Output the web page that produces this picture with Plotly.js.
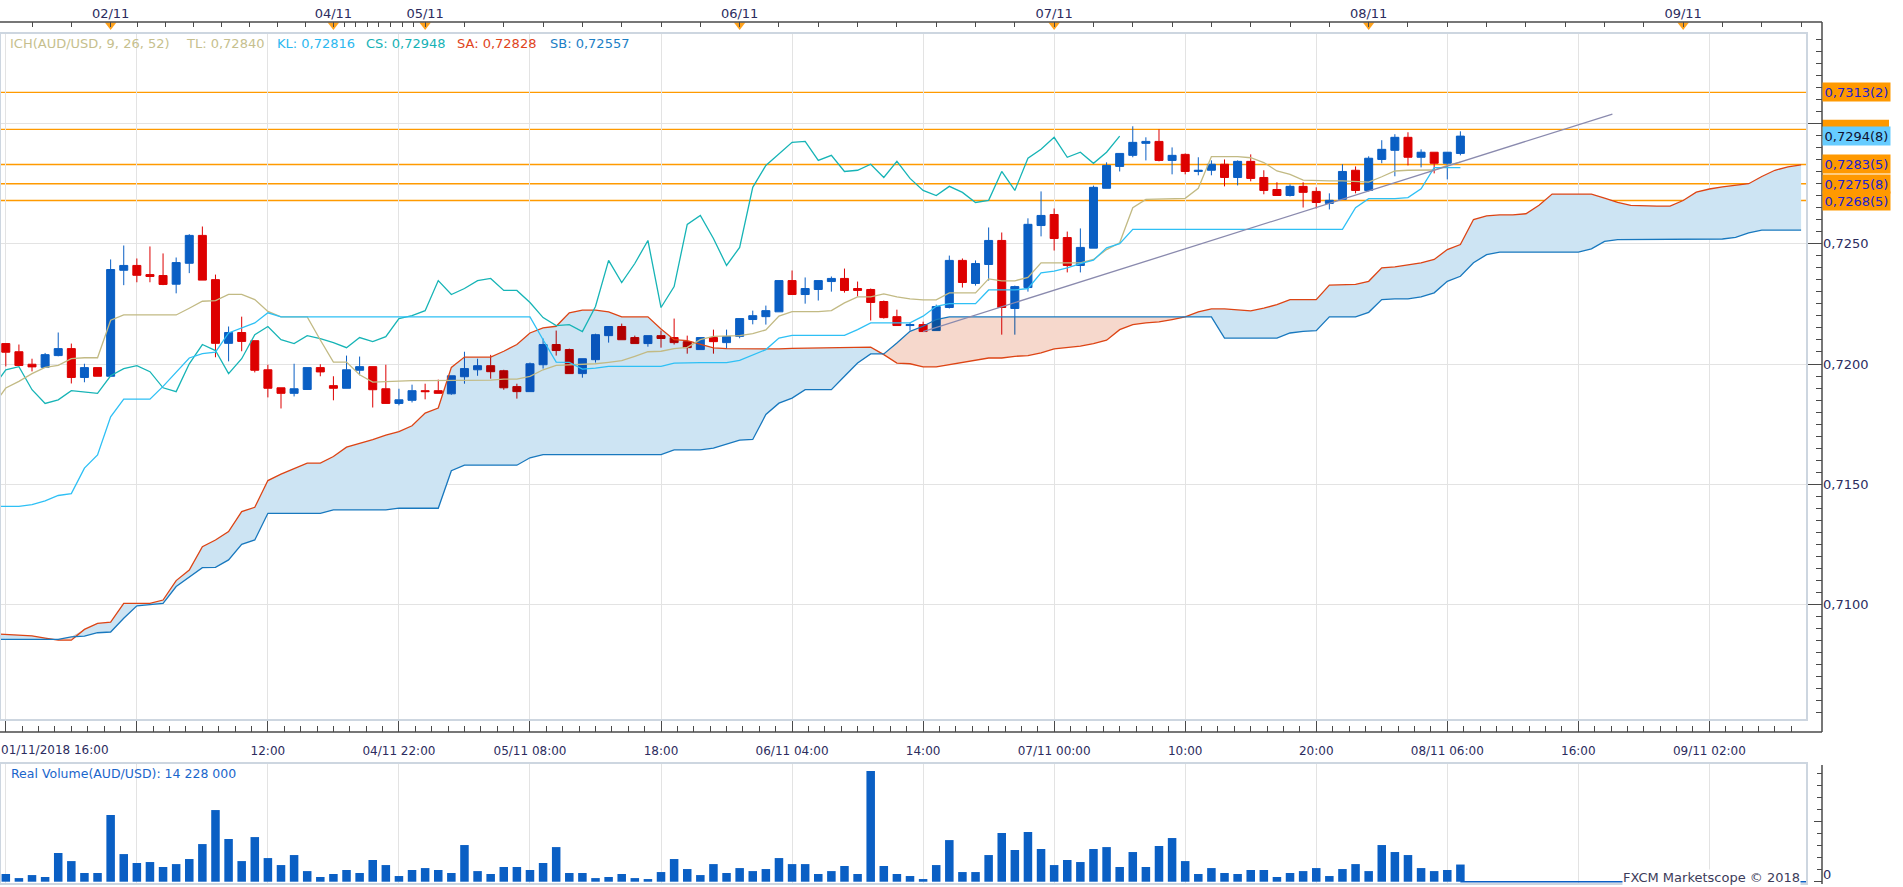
<!DOCTYPE html>
<html><head><meta charset="utf-8">
<script src="https://cdn.plot.ly/plotly-3.0.1.min.js"></script>
<style>html,body{margin:0;padding:0;background:#fff;}#chart{width:1903px;height:887px;}</style>
</head><body><div id="chart"></div>
<script>
// ---------- DATA (hourly bars, index 0 = 01/11/2018 16:00) ----------
const candleOpen = [0.72085,0.72051,0.71999,0.71986,0.72035,0.72064,0.71944,0.71985,0.71949,0.72390,
0.72410,0.72372,0.72368,0.72332,0.72419,0.72535,0.72351,0.72086,0.72131,0.72097,
0.71976,0.71901,0.71878,0.71894,0.71985,0.71910,0.71899,0.71974,0.71989,0.71897,
0.71836,0.71849,0.71889,0.71889,0.71876,0.71947,0.71976,0.71993,0.71972,0.71906,
0.71885,0.71997,0.72081,0.72060,0.71960,0.72018,0.72118,0.72156,0.72110,0.72085,
0.72118,0.72110,0.72093,0.72060,0.72110,0.72089,0.72115,0.72185,0.72197,0.72217,
0.72347,0.72289,0.72310,0.72343,0.72356,0.72314,0.72310,0.72260,0.72197,0.72160,
0.72164,0.72139,0.72235,0.72431,0.72335,0.72414,0.72514,0.72231,0.72318,0.72576,
0.72622,0.72526,0.72410,0.72482,0.72731,0.72822,0.72868,0.72918,0.72926,0.72847,
0.72872,0.72801,0.72806,0.72831,0.72776,0.72843,0.72776,0.72726,0.72701,0.72739,
0.72718,0.72668,0.72685,0.72806,0.72722,0.72851,0.72889,0.72943,0.72860,0.72881,
0.72835,0.72876];
const candleHigh = [0.72085,0.72081,0.72022,0.72046,0.72131,0.72085,0.72001,0.71985,0.72435,0.72493,
0.72439,0.72489,0.72460,0.72443,0.72540,0.72572,0.72372,0.72156,0.72197,0.72097,
0.71997,0.71901,0.72001,0.71985,0.71999,0.71949,0.72035,0.72031,0.71989,0.71997,
0.71897,0.71914,0.71918,0.71935,0.71951,0.72051,0.72022,0.72038,0.71976,0.71918,
0.72006,0.72106,0.72139,0.72064,0.72022,0.72126,0.72156,0.72168,0.72118,0.72118,
0.72139,0.72189,0.72118,0.72110,0.72143,0.72143,0.72189,0.72222,0.72243,0.72347,
0.72389,0.72360,0.72347,0.72364,0.72397,0.72343,0.72314,0.72264,0.72226,0.72172,
0.72176,0.72247,0.72451,0.72439,0.72431,0.72568,0.72547,0.72326,0.72606,0.72718,
0.72647,0.72551,0.72564,0.72742,0.72839,0.72876,0.72989,0.72943,0.72976,0.72901,
0.72876,0.72860,0.72847,0.72851,0.72847,0.72872,0.72806,0.72756,0.72747,0.72756,
0.72735,0.72710,0.72831,0.72822,0.72864,0.72931,0.72956,0.72964,0.72893,0.72881,
0.72881,0.72968];
const candleLow = [0.71990,0.71994,0.71969,0.71986,0.72032,0.71919,0.71924,0.71949,0.71949,0.72328,
0.72340,0.72340,0.72328,0.72294,0.72378,0.72349,0.72028,0.72011,0.72053,0.71965,
0.71861,0.71815,0.71865,0.71894,0.71949,0.71849,0.71899,0.71953,0.71819,0.71836,
0.71828,0.71840,0.71853,0.71878,0.71872,0.71918,0.71951,0.71939,0.71893,0.71856,
0.71885,0.71981,0.72035,0.71960,0.71943,0.72006,0.72089,0.72101,0.72085,0.72072,
0.72068,0.72081,0.72043,0.72060,0.72043,0.72064,0.72107,0.72165,0.72164,0.72217,
0.72289,0.72251,0.72264,0.72301,0.72297,0.72281,0.72181,0.72189,0.72160,0.72139,
0.72135,0.72139,0.72231,0.72318,0.72326,0.72347,0.72122,0.72122,0.72301,0.72531,
0.72472,0.72381,0.72381,0.72482,0.72731,0.72801,0.72860,0.72847,0.72843,0.72789,
0.72789,0.72785,0.72785,0.72739,0.72743,0.72760,0.72706,0.72701,0.72697,0.72651,
0.72647,0.72643,0.72685,0.72710,0.72718,0.72835,0.72781,0.72826,0.72818,0.72793,
0.72768,0.72868];
const candleClose = [0.72049,0.71994,0.71988,0.72039,0.72064,0.71944,0.71985,0.71949,0.72393,0.72410,
0.72369,0.72364,0.72331,0.72422,0.72535,0.72349,0.72086,0.72131,0.72094,0.71974,
0.71899,0.71878,0.71897,0.71985,0.71967,0.71899,0.71976,0.71989,0.71893,0.71836,
0.71851,0.71889,0.71885,0.71878,0.71951,0.71981,0.71993,0.71968,0.71901,0.71885,
0.72001,0.72081,0.72056,0.71960,0.72022,0.72122,0.72156,0.72101,0.72085,0.72118,
0.72106,0.72089,0.72068,0.72110,0.72093,0.72114,0.72189,0.72201,0.72222,0.72347,
0.72289,0.72314,0.72347,0.72356,0.72306,0.72306,0.72256,0.72193,0.72160,0.72164,
0.72135,0.72239,0.72431,0.72339,0.72418,0.72514,0.72235,0.72322,0.72581,0.72618,
0.72522,0.72410,0.72485,0.72735,0.72826,0.72876,0.72922,0.72926,0.72847,0.72868,
0.72801,0.72806,0.72831,0.72776,0.72843,0.72772,0.72722,0.72701,0.72739,0.72714,
0.72672,0.72681,0.72801,0.72722,0.72856,0.72893,0.72943,0.72860,0.72881,0.72835,
0.72881,0.72948];
// volume in millions
const volumeM = [6.4,3.0,5.5,3.9,23.8,17.1,7.2,7.2,55.3,22.9,
15.5,16.3,12.2,14.6,18.8,31.2,59.4,35.4,17.1,37.0,
19.6,13.8,22.1,8.8,3.9,6.4,9.7,7.2,18.0,13.8,
4.7,9.7,11.3,9.7,7.2,30.4,8.8,6.4,12.2,12.2,
9.7,15.5,28.7,7.2,7.2,3.0,3.9,6.4,3.0,2.2,
8.0,18.8,10.5,5.5,14.6,7.2,11.3,8.8,10.5,19.6,
14.6,14.6,6.4,8.8,13.0,6.4,91.8,13.0,6.4,4.7,
2.2,13.8,34.5,8.0,8.0,22.1,40.4,26.3,41.2,27.1,
13.8,18.0,16.3,27.1,28.7,12.2,24.6,12.2,29.6,36.2,
17.1,6.4,11.3,7.2,6.4,9.7,9.7,3.9,7.2,8.8,
11.3,4.7,10.5,14.6,8.8,30.4,24.6,22.1,11.3,8.8,
9.7,14.228];
// Ichimoku lines, first value is at bar index -1
const tenkan = [0.71825,
0.71900,0.71928,0.71960,0.71986,0.71994,0.72022,0.72026,0.72026,0.72182,0.72204,
0.72204,0.72204,0.72204,0.72204,0.72232,0.72261,0.72264,0.72290,0.72290,0.72268,
0.72219,0.72196,0.72196,0.72196,0.72100,0.72008,0.72008,0.71955,0.71925,0.71928,
0.71931,0.71931,0.71931,0.71931,0.71931,0.71933,0.71933,0.71933,0.71937,0.71937,
0.71949,0.71976,0.71994,0.71997,0.71997,0.72001,0.72007,0.72014,0.72032,0.72051,
0.72053,0.72064,0.72069,0.72101,0.72115,0.72115,0.72118,0.72126,0.72142,0.72199,
0.72218,0.72218,0.72218,0.72222,0.72254,0.72279,0.72279,0.72292,0.72279,0.72271,
0.72267,0.72267,0.72296,0.72296,0.72296,0.72354,0.72346,0.72346,0.72360,0.72421,
0.72421,0.72421,0.72421,0.72435,0.72476,0.72504,0.72650,0.72685,0.72686,0.72689,
0.72689,0.72731,0.72863,0.72863,0.72863,0.72858,0.72838,0.72803,0.72789,0.72765,
0.72762,0.72762,0.72762,0.72760,0.72757,0.72779,0.72803,0.72806,0.72807,0.72807,
0.72826,0.72840];
const kijun = [0.71408,
0.71408,0.71408,0.71415,0.71431,0.71453,0.71461,0.71567,0.71622,0.71780,0.71854,
0.71854,0.71854,0.71907,0.71965,0.72025,0.72043,0.72049,0.72129,0.72150,0.72171,
0.72213,0.72196,0.72196,0.72196,0.72196,0.72196,0.72196,0.72196,0.72196,0.72196,
0.72196,0.72196,0.72196,0.72196,0.72196,0.72196,0.72196,0.72196,0.72196,0.72196,
0.72196,0.72101,0.72008,0.72007,0.71979,0.71983,0.71990,0.71990,0.71990,0.71990,
0.71990,0.72004,0.72006,0.72006,0.72006,0.72006,0.72015,0.72038,0.72060,0.72108,
0.72119,0.72119,0.72119,0.72119,0.72119,0.72143,0.72171,0.72171,0.72171,0.72171,
0.72199,0.72240,0.72251,0.72251,0.72251,0.72308,0.72308,0.72308,0.72314,0.72379,
0.72386,0.72400,0.72418,0.72432,0.72483,0.72501,0.72560,0.72560,0.72560,0.72560,
0.72560,0.72560,0.72560,0.72560,0.72560,0.72560,0.72560,0.72560,0.72560,0.72560,
0.72560,0.72560,0.72560,0.72650,0.72688,0.72688,0.72688,0.72692,0.72729,0.72817,
0.72817,0.72817];
const chikou = [0.71899,
0.71976,0.71989,0.71893,0.71836,0.71851,0.71889,0.71885,0.71878,0.71951,0.71981,
0.71993,0.71968,0.71901,0.71885,0.72001,0.72081,0.72056,0.71960,0.72022,0.72122,
0.72156,0.72101,0.72085,0.72118,0.72106,0.72089,0.72068,0.72110,0.72093,0.72114,
0.72189,0.72201,0.72222,0.72347,0.72289,0.72314,0.72347,0.72356,0.72306,0.72306,
0.72256,0.72193,0.72160,0.72164,0.72135,0.72239,0.72431,0.72339,0.72418,0.72514,
0.72235,0.72322,0.72581,0.72618,0.72522,0.72410,0.72485,0.72735,0.72826,0.72876,
0.72922,0.72926,0.72847,0.72868,0.72801,0.72806,0.72831,0.72776,0.72843,0.72772,
0.72722,0.72701,0.72739,0.72714,0.72672,0.72681,0.72801,0.72722,0.72856,0.72893,
0.72943,0.72860,0.72881,0.72835,0.72881,0.72948];
const spanA = [0.70878,
0.70876,0.70872,0.70869,0.70860,0.70851,0.70851,0.70896,0.70921,0.70926,0.71004,
0.71004,0.71004,0.71018,0.71099,0.71143,0.71240,0.71268,0.71303,0.71386,0.71404,
0.71515,0.71542,0.71565,0.71588,0.71588,0.71615,0.71654,0.71668,0.71685,0.71704,
0.71719,0.71743,0.71796,0.71817,0.71986,0.72029,0.72029,0.72029,0.72053,0.72081,
0.72129,0.72150,0.72157,0.72213,0.72224,0.72224,0.72217,0.72196,0.72196,0.72196,
0.72146,0.72101,0.72097,0.72081,0.72067,0.72064,0.72063,0.72063,0.72063,0.72063,
0.72065,0.72066,0.72067,0.72068,0.72070,0.72070,0.72070,0.72039,0.72004,0.72001,
0.71988,0.71988,0.71997,0.72008,0.72015,0.72025,0.72025,0.72032,0.72035,0.72046,
0.72063,0.72067,0.72074,0.72085,0.72099,0.72143,0.72164,0.72171,0.72175,0.72185,
0.72196,0.72217,0.72229,0.72229,0.72224,0.72221,0.72232,0.72247,0.72268,0.72268,
0.72268,0.72328,0.72331,0.72331,0.72344,0.72400,0.72404,0.72414,0.72421,0.72435,
0.72476,0.72497,0.72601,0.72616,0.72620,0.72620,0.72625,0.72660,0.72707,0.72707,
0.72707,0.72707,0.72690,0.72672,0.72660,0.72657,0.72657,0.72657,0.72680,0.72715,
0.72728,0.72737,0.72742,0.72750,0.72780,0.72806,0.72820,0.72828];
const spanB = [0.70854,
0.70854,0.70854,0.70854,0.70854,0.70854,0.70865,0.70868,0.70882,0.70885,0.70942,
0.70994,0.70999,0.71004,0.71074,0.71115,0.71153,0.71154,0.71185,0.71250,0.71268,
0.71379,0.71379,0.71379,0.71379,0.71379,0.71393,0.71393,0.71393,0.71393,0.71393,
0.71400,0.71400,0.71400,0.71400,0.71556,0.71579,0.71579,0.71579,0.71579,0.71579,
0.71610,0.71623,0.71623,0.71623,0.71623,0.71623,0.71623,0.71623,0.71623,0.71623,
0.71623,0.71643,0.71643,0.71643,0.71650,0.71665,0.71683,0.71686,0.71790,0.71837,
0.71858,0.71893,0.71893,0.71893,0.71949,0.72004,0.72042,0.72042,0.72087,0.72136,
0.72157,0.72185,0.72196,0.72196,0.72196,0.72196,0.72196,0.72196,0.72196,0.72196,
0.72196,0.72196,0.72196,0.72196,0.72196,0.72196,0.72196,0.72196,0.72196,0.72196,
0.72196,0.72196,0.72196,0.72108,0.72108,0.72108,0.72108,0.72108,0.72129,0.72136,
0.72139,0.72196,0.72196,0.72196,0.72215,0.72268,0.72271,0.72271,0.72279,0.72296,
0.72344,0.72365,0.72421,0.72455,0.72465,0.72465,0.72465,0.72465,0.72465,0.72465,
0.72465,0.72479,0.72510,0.72517,0.72517,0.72517,0.72517,0.72517,0.72517,0.72517,
0.72517,0.72520,0.72527,0.72545,0.72557,0.72557,0.72557,0.72557];
// trend line (two anchor points: bar index, price)
const trendX = [70, 122.6];
const trendY = [0.72135, 0.73040];
// horizontal levels (the 0.72976 level's label is hidden behind the current-price label)
const levelPrices = [0.7313, 0.72976, 0.7283, 0.7275, 0.7268];
const levelLabels = ['0,7313(2)', null, '0,7283(5)', '0,7275(8)', '0,7268(5)'];
const lastPrice = 0.72948;
const lastPriceLabel = '0,7294(8)';
// axis ticks
const bottomTickVals = [0,10,20,30,40,50,60,70,80,90,100,110,120,130];
const bottomTickText = ['', '', '12:00', '04/11 22:00', '05/11 08:00', '18:00', '06/11 04:00', '14:00',
  '07/11 00:00', '10:00', '20:00', '08/11 06:00', '16:00', '09/11 02:00'];
const firstBottomLabel = '01/11/2018 16:00';
const topTickVals = [2,5,8,10.04,12.17,14.33,16.47,18.6,20.73,22.86,25,25.85,26.7,27.6,28.45,29.35,30.25,31.1,32,
  35,38,41,44,47,50,53,56,59,62,65,68,71,74,77,80,83,86,89,92,95,98,101,104,107,110,113,116,119,122,125,128,131,134,137];
const dayMarkerVals = [8, 25, 32, 56, 80, 104, 128];
const dayMarkerText = ['02/11', '04/11', '05/11', '06/11', '07/11', '08/11', '09/11'];
const priceTickVals = [0.7100, 0.7150, 0.7200, 0.7250, 0.7300];
const priceTickText = ['0,7100', '0,7150', '0,7200', '0,7250', ''];
const legendItems = [
  {text: 'ICH(AUD/USD, 9, 26, 52)', color: '#c6bf8e', px: 9},
  {text: 'TL: 0,72840', color: '#c6bf8e', px: 185},
  {text: 'KL: 0,72816', color: '#2cb8f0', px: 275.5},
  {text: 'CS: 0,72948', color: '#16b2b6', px: 365},
  {text: 'SA: 0,72828', color: '#e0441c', px: 456},
  {text: 'SB: 0,72557', color: '#1c80c6', px: 548.5}
];
const volumeTitle = 'Real Volume(AUD/USD): 14 228 000';
const copyright = 'FXCM Marketscope \u00a9 2018';

// ---------- LAYOUT HELPERS ----------
const W = 1903, H = 887;
const px = x => x / W;
const py = y => 1 - y / H;
const PLOT_R = 1807, AXIS_X = 1822;

const barX = candleOpen.map((_, i) => i);
const idxFrom = (arr, start) => arr.map((_, k) => k + start);
const ichiX = idxFrom(spanA, -1);
const topAB = spanA.map((a, k) => Math.max(a, spanB[k]));

const topTickText = topTickVals.map(v => {
  const k = dayMarkerVals.indexOf(v);
  return k >= 0 ? dayMarkerText[k] : '';
});

const traces = [
  {type: 'candlestick', x: barX, open: candleOpen, high: candleHigh, low: candleLow, close: candleClose,
   xaxis: 'x', yaxis: 'y', whiskerwidth: 0,
   increasing: {line: {color: '#0a5fc4', width: 1}, fillcolor: '#0a5fc4'},
   decreasing: {line: {color: '#dd0000', width: 1}, fillcolor: '#dd0000'},
   hoverinfo: 'skip'},
  // cloud fills
  {type: 'scatter', mode: 'lines', x: ichiX, y: spanB, line: {width: 0}, hoverinfo: 'skip', xaxis: 'x', yaxis: 'y'},
  {type: 'scatter', mode: 'lines', x: ichiX, y: topAB, line: {width: 0}, fill: 'tonexty', fillcolor: '#cde4f3', hoverinfo: 'skip', xaxis: 'x', yaxis: 'y'},
  {type: 'scatter', mode: 'lines', x: ichiX, y: spanA, line: {width: 0}, hoverinfo: 'skip', xaxis: 'x', yaxis: 'y'},
  {type: 'scatter', mode: 'lines', x: ichiX, y: topAB, line: {width: 0}, fill: 'tonexty', fillcolor: '#f6d8cc', hoverinfo: 'skip', xaxis: 'x', yaxis: 'y'},
  // lines
  {type: 'scatter', mode: 'lines', x: ichiX, y: spanA, line: {color: '#dd4414', width: 1.3}, hoverinfo: 'skip'},
  {type: 'scatter', mode: 'lines', x: ichiX, y: spanB, line: {color: '#1878be', width: 1.3}, hoverinfo: 'skip'},
  {type: 'scatter', mode: 'lines', x: idxFrom(chikou, -1), y: chikou, line: {color: '#16b4b6', width: 1.3}, hoverinfo: 'skip'},
  {type: 'scatter', mode: 'lines', x: idxFrom(tenkan, -1), y: tenkan, line: {color: '#c2ba84', width: 1.3}, hoverinfo: 'skip'},
  {type: 'scatter', mode: 'lines', x: idxFrom(kijun, -1), y: kijun, line: {color: '#2ec0f5', width: 1.3}, hoverinfo: 'skip'},
  {type: 'scatter', mode: 'lines', x: trendX, y: trendY, line: {color: '#8a8aae', width: 1.3}, hoverinfo: 'skip'},
  // volume
  {type: 'bar', x: barX, y: volumeM, xaxis: 'x3', yaxis: 'y2', width: 0.65, marker: {color: '#0a5fc4', line: {width: 0}}, hoverinfo: 'skip'},
  {type: 'scatter', mode: 'lines', x: [barX[barX.length - 1], 137.45], y: [0, 0], xaxis: 'x3', yaxis: 'y2', line: {color: '#0a5fc4', width: 1.5}, hoverinfo: 'skip'},
  // day markers on top axis
  {type: 'scatter', mode: 'markers', x: dayMarkerVals, y: dayMarkerVals.map(() => 0.72), xaxis: 'x2', yaxis: 'y3',
   marker: {symbol: 'triangle-down', size: 10, color: '#ffa21c', line: {width: 0}}, cliponaxis: false, hoverinfo: 'skip'}
];

const tickFontColor = '#2c2c5e';
const shapes = [];
levelPrices.forEach(p => shapes.push({type: 'line', xref: 'paper', x0: 0, x1: px(PLOT_R), yref: 'y', y0: p, y1: p,
  line: {color: '#ff9a00', width: 1.4}, layer: 'between'}));
// orange tag of the level whose label is covered by the current-price tag
levelPrices.forEach((p, k) => { if (!levelLabels[k]) shapes.push({type: 'rect', xref: 'paper', yref: 'y',
  x0: px(AXIS_X), x1: px(AXIS_X + 67), y0: p - 0.00040, y1: p + 0.00040, fillcolor: '#ff9900', line: {width: 0}, layer: 'above'}); });
// plot frames
shapes.push({type: 'rect', xref: 'paper', yref: 'paper', x0: 0, x1: px(PLOT_R), y0: py(720), y1: py(33), line: {color: '#cdd6e0', width: 2}, layer: 'above'});
shapes.push({type: 'rect', xref: 'paper', yref: 'paper', x0: 0, x1: px(PLOT_R), y0: py(884), y1: py(763), line: {color: '#cdd6e0', width: 2}, layer: 'above'});
// axis lines
const axLine = {color: '#4a4a4a', width: 1.5};
shapes.push({type: 'line', xref: 'paper', yref: 'paper', x0: 0, x1: px(AXIS_X), y0: py(22), y1: py(22), line: axLine});
shapes.push({type: 'line', xref: 'paper', yref: 'paper', x0: 0, x1: px(AXIS_X), y0: py(732), y1: py(732), line: axLine});
shapes.push({type: 'line', xref: 'paper', yref: 'paper', x0: px(AXIS_X), x1: px(AXIS_X), y0: py(732), y1: py(22), line: axLine});
shapes.push({type: 'line', xref: 'paper', yref: 'paper', x0: px(AXIS_X), x1: px(AXIS_X), y0: py(884), y1: py(765), line: axLine});

const annotations = [];
legendItems.forEach(it => annotations.push({xref: 'paper', yref: 'paper', x: px(it.px), y: py(43.7), xanchor: 'left', yanchor: 'middle',
  text: it.text, showarrow: false, font: {size: 13, color: it.color}, borderpad: 0}));
levelPrices.forEach((p, k) => { if (levelLabels[k]) annotations.push({xref: 'paper', yref: 'y', x: px(AXIS_X), y: p, xanchor: 'left', yanchor: 'middle',
  text: levelLabels[k], showarrow: false, bgcolor: '#ff9900', borderpad: 1.5, font: {size: 13, color: '#2020d0'}}); });
annotations.push({xref: 'paper', yref: 'y', x: px(AXIS_X), y: lastPrice, xanchor: 'left', yanchor: 'middle',
  text: lastPriceLabel, showarrow: false, bgcolor: '#66ccff', borderpad: 1.5, font: {size: 13, color: '#101030'}});
annotations.push({xref: 'paper', yref: 'paper', x: px(10), y: py(773.5), xanchor: 'left', yanchor: 'middle',
  text: volumeTitle, showarrow: false, font: {size: 12.5, color: '#1a66cc'}, borderpad: 0});
annotations.push({xref: 'paper', yref: 'paper', x: px(1622), y: py(877), xanchor: 'left', yanchor: 'middle',
  text: copyright, showarrow: false, bgcolor: '#ffffff', font: {size: 13, color: '#3c3c5a'}, borderpad: 0});
annotations.push({xref: 'paper', yref: 'paper', x: px(0), y: py(750), xanchor: 'left', yanchor: 'middle',
  text: firstBottomLabel, showarrow: false, font: {size: 12, color: tickFontColor}, borderpad: 0});

const layout = {
  width: W, height: H, margin: {l: 0, r: 0, t: 0, b: 0, pad: 0},
  paper_bgcolor: '#ffffff', plot_bgcolor: '#ffffff',
  separators: ', ', showlegend: false, hovermode: false, dragmode: false,
  font: {family: 'DejaVu Sans, Verdana, sans-serif', size: 12, color: tickFontColor},
  boxgap: 0.39, boxgroupgap: 0,
  xaxis: {domain: [0, px(PLOT_R)], range: [-0.443, 137.45], anchor: 'free', position: py(732), side: 'bottom',
    tickmode: 'array', tickvals: bottomTickVals, ticktext: bottomTickText,
    ticks: 'inside', ticklen: 12, tickwidth: 1, tickcolor: '#4a4a4a', ticklabelstandoff: 10,
    minor: {tickmode: 'linear', tick0: 0, dtick: 1.25, ticks: 'inside', ticklen: 6, tickwidth: 1, tickcolor: '#4a4a4a', showgrid: false},
    showgrid: true, gridcolor: '#e3e3e3', gridwidth: 1, zeroline: false, showline: false,
    tickfont: {size: 12, color: tickFontColor}, rangeslider: {visible: false}, fixedrange: true},
  xaxis2: {domain: [0, px(PLOT_R)], matches: 'x', anchor: 'y3', side: 'top',
    tickmode: 'array', tickvals: topTickVals, ticktext: topTickText,
    ticks: 'inside', ticklen: 5, tickwidth: 1, tickcolor: '#4a4a4a',
    showgrid: false, zeroline: false, showline: false, tickfont: {size: 13, color: tickFontColor}, fixedrange: true},
  xaxis3: {domain: [0, px(PLOT_R)], matches: 'x', anchor: 'y2', tickmode: 'array', tickvals: bottomTickVals,
    showticklabels: false, ticks: '', showgrid: true, gridcolor: '#e3e3e3', zeroline: false, showline: false, fixedrange: true},
  yaxis: {domain: [py(720), py(33)], range: [0.70519, 0.73377], anchor: 'free', position: px(AXIS_X), side: 'right',
    tickmode: 'array', tickvals: priceTickVals, ticktext: priceTickText,
    ticks: 'inside', ticklen: 14, tickwidth: 1, tickcolor: '#4a4a4a',
    minor: {tickmode: 'linear', tick0: 0, dtick: 0.0005, ticks: 'inside', ticklen: 6, tickwidth: 1, tickcolor: '#4a4a4a', showgrid: false},
    showgrid: true, gridcolor: '#e3e3e3', gridwidth: 1, zeroline: false, showline: false,
    tickfont: {size: 13, color: tickFontColor}, fixedrange: true},
  yaxis2: {domain: [py(884), py(763)], range: [-1.907, 98.42], anchor: 'free', position: px(AXIS_X), side: 'right',
    tickmode: 'array', tickvals: [0, 50], ticktext: ['0', ''], ticklabeloverflow: 'allow', ticklabelshift: -7,
    ticks: 'inside', ticklen: 8, tickwidth: 1, tickcolor: '#4a4a4a',
    minor: {tickmode: 'linear', tick0: 0, dtick: 10, ticks: 'inside', ticklen: 5, tickwidth: 1, tickcolor: '#4a4a4a', showgrid: false},
    showgrid: false, zeroline: false, showline: false, tickfont: {size: 13, color: tickFontColor}, fixedrange: true},
  yaxis3: {domain: [py(33), py(22)], range: [0, 1], visible: false, fixedrange: true},
  shapes: shapes, annotations: annotations
};

Plotly.newPlot('chart', traces, layout, {displayModeBar: false, staticPlot: true}).then(() => {
  document.querySelectorAll('path.js-fill').forEach(p => { p.style.mixBlendMode = 'multiply'; });
});
</script>
</body></html>
